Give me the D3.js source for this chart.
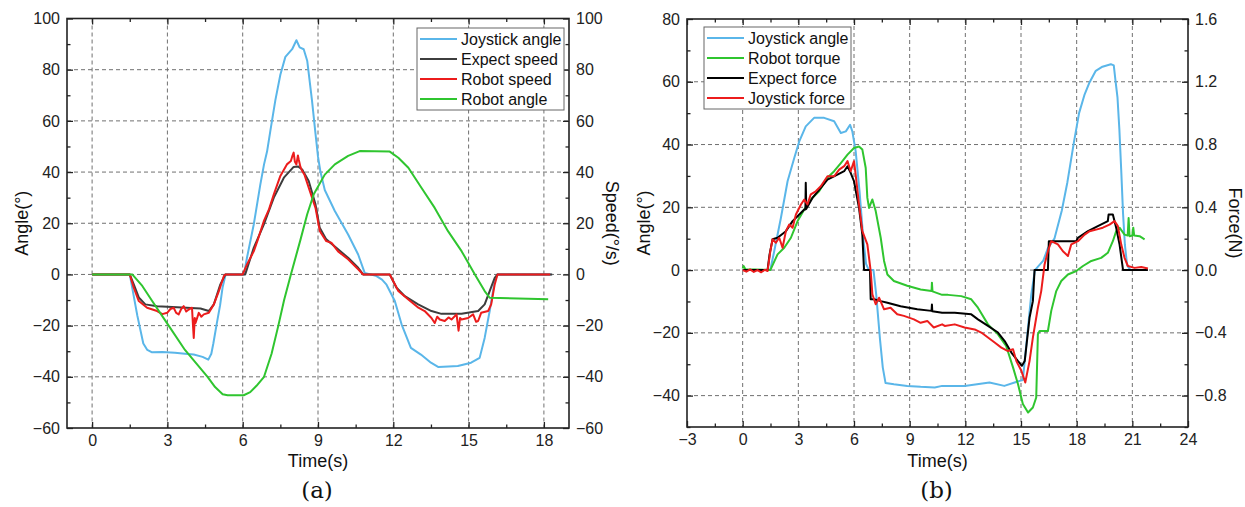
<!DOCTYPE html>
<html>
<head>
<meta charset="utf-8">
<script src="https://cdn.jsdelivr.net/npm/d3@7"></script>
<style>
  body { margin: 0; background: #fff; }
  text { font-family: "Liberation Sans", Arial, sans-serif; }
</style>
</head>
<body>
<svg id="chart" width="1245" height="507"></svg>
<script>
// ---- panel (a): time(s), value -- angle(deg) and speed(deg/s) share one scale
var a_joystickAngle = [[0,0],[1.5,0],[1.65,-8],[1.8,-16],[2.04,-27],[2.2,-29.5],[2.37,-30.4],[2.8,-30.3],[3.3,-30.6],[3.7,-31],[4.05,-31.3],[4.4,-32.2],[4.63,-33.3],[4.75,-31],[4.83,-27],[4.97,-19],[5.1,-12],[5.2,-5],[5.32,0],[6.05,0],[6.17,6.5],[6.44,19.5],[6.7,35],[6.85,43],[6.97,48],[7.1,56],[7.3,68],[7.5,78],[7.7,85],[7.97,88],[8.14,91.5],[8.27,88.7],[8.43,88],[8.57,83.5],[8.76,68],[8.9,55],[9.0,46],[9.1,40],[9.27,33],[9.67,24.8],[10.2,15.6],[10.6,7.8],[10.86,0.6],[11.3,-0.5],[11.55,-2],[11.73,-4],[12.06,-10.4],[12.33,-19.5],[12.7,-28.7],[13.1,-31.3],[13.5,-34.5],[13.8,-36.2],[14.2,-36],[14.57,-35.8],[15.1,-34.5],[15.44,-32.6],[15.64,-24.8],[15.84,-14.3],[16.04,-2.6],[16.15,0],[18.3,0]];
var a_expectSpeed = [[0,0],[1.5,0],[1.66,-3.9],[1.86,-9],[2.12,-11.7],[2.59,-12.4],[3.39,-12.8],[4.32,-13.3],[4.65,-14.3],[4.85,-11.7],[5.11,-3.9],[5.31,0],[6.1,0],[6.44,10.4],[6.84,19.5],[7.24,30],[7.64,37.8],[8.03,42],[8.2,42.2],[8.37,41],[8.63,36.5],[8.9,27.4],[9.07,18.2],[9.33,13.7],[9.8,9.8],[10.2,6.5],[10.6,2.6],[10.8,0],[11.86,0],[12.13,-5.2],[12.46,-8.5],[12.99,-11.7],[13.52,-14.3],[13.92,-15.4],[14.72,-15.4],[15.38,-14.3],[15.64,-11.7],[15.84,-6.5],[16.04,-1.3],[16.15,0],[18.33,0]];
var a_robotSpeed = [[0,0],[1.5,0],[1.66,-5.2],[1.86,-10.4],[2.19,-13],[2.59,-14.3],[2.8,-15.5],[2.99,-15],[3.12,-13.5],[3.25,-13],[3.35,-15],[3.45,-15.6],[3.55,-13.5],[3.65,-12.4],[3.75,-14.5],[3.85,-13.7],[3.98,-13],[4.02,-20],[4.05,-24.8],[4.09,-17],[4.12,-19],[4.25,-15],[4.35,-16.5],[4.45,-15.6],[4.65,-15],[4.85,-11.7],[5.05,-6.5],[5.25,-0.6],[5.31,0],[6.0,0],[6.17,3.9],[6.44,9],[6.6,13.5],[6.84,20.8],[7.05,25.5],[7.24,31.3],[7.5,38.5],[7.76,43],[7.92,44.3],[7.97,46],[8.03,47.6],[8.08,44],[8.14,43],[8.2,46.5],[8.23,45],[8.3,42],[8.37,40.4],[8.46,39],[8.63,33.9],[8.9,26],[9.07,17],[9.33,13],[9.53,12.4],[9.8,9],[10.2,5.9],[10.6,2],[10.8,0],[11.86,0],[12.2,-6.5],[12.6,-9.8],[13,-13],[13.25,-14.3],[13.52,-17],[13.65,-19],[13.75,-16.5],[13.85,-17.6],[14.05,-18.2],[14.2,-16.8],[14.32,-17.6],[14.52,-15.6],[14.6,-22],[14.66,-17],[14.72,-17.6],[14.98,-17],[15.18,-15.6],[15.3,-18.5],[15.38,-18.2],[15.5,-15],[15.78,-14.3],[15.9,-11.7],[16.04,-3.9],[16.15,0],[18.25,0]];
var a_robotAngle = [[0,0],[1.6,0],[2.0,-4.5],[2.4,-10.5],[3.05,-20],[3.7,-29.5],[4.6,-40],[4.9,-44],[5.2,-46.8],[5.4,-47.2],[6.04,-47.2],[6.3,-46],[6.55,-43.5],[6.85,-40],[7.15,-31],[7.42,-20],[7.65,-10],[7.92,0],[8.3,13.5],[8.57,23.5],[8.83,31.3],[9.27,39],[9.67,43],[10.2,46.3],[10.66,48.2],[11.86,48],[12.2,45.6],[12.6,41.7],[13.12,33.9],[13.65,26],[14.18,16.9],[14.72,9.1],[15.25,0],[15.64,-6.5],[15.84,-9.1],[18.17,-9.7]];

// ---- panel (b): joystick angle in deg (left axis), forces/torque in N (right axis)
var b_joystickAngle = [[0,0],[1.49,0],[1.7,6],[2.06,16.6],[2.42,28.3],[2.78,35.7],[3.05,41],[3.4,45.8],[3.85,48.5],[4.39,48.5],[4.93,47.4],[5.29,43.7],[5.56,44.2],[5.79,46.3],[5.91,44.2],[6.09,37.9],[6.3,25],[6.5,10],[6.65,2],[6.8,0],[7.05,0],[7.2,-8],[7.4,-22],[7.55,-31],[7.7,-36],[8.15,-36.4],[8.87,-36.9],[9.59,-37.2],[10.35,-37.4],[10.75,-36.9],[11.96,-36.9],[13.3,-35.8],[14.1,-36.9],[14.93,-35.3],[15.1,-35],[15.35,-20],[15.55,-8],[15.75,0],[16.2,3],[16.45,7],[16.8,10],[17.2,19],[17.5,28],[17.86,41],[18.13,50],[18.43,56],[18.67,59.5],[19.03,63.5],[19.39,64.8],[19.84,65.6],[20.0,65.2],[20.1,60],[20.2,55],[20.3,45],[20.4,32],[20.5,18],[20.6,8],[20.72,1.5],[20.9,0],[21.1,0]];
var b_robotTorque = [[0,0.01],[0.05,0.026],[0.15,0.006],[1.49,0],[1.88,0.1],[2.24,0.142],[2.6,0.206],[2.96,0.312],[3.32,0.386],[3.67,0.45],[4.12,0.502],[4.57,0.588],[4.93,0.63],[5.29,0.682],[5.65,0.736],[6.0,0.778],[6.27,0.788],[6.45,0.768],[6.63,0.652],[6.72,0.46],[6.81,0.396],[6.99,0.45],[7.17,0.376],[7.44,0.206],[7.62,0.058],[7.8,-0.028],[8.15,-0.07],[8.87,-0.1],[9.59,-0.124],[10.18,-0.134],[10.2,-0.08],[10.23,-0.136],[10.75,-0.158],[11.07,-0.158],[11.78,-0.166],[12.32,-0.186],[12.68,-0.24],[13.22,-0.346],[13.76,-0.41],[14.2,-0.484],[14.57,-0.62],[14.84,-0.728],[15.1,-0.854],[15.38,-0.908],[15.64,-0.876],[15.82,-0.812],[15.91,-0.41],[16.0,-0.388],[16.45,-0.388],[16.63,-0.26],[16.9,-0.134],[17.17,-0.07],[17.53,-0.028],[17.98,-0.006],[18.34,0.026],[18.79,0.058],[19.32,0.078],[19.68,0.11],[19.95,0.184],[20.13,0.248],[20.31,0.27],[20.58,0.226],[20.75,0.22],[20.8,0.332],[20.85,0.216],[21.0,0.22],[21.05,0.27],[21.1,0.22],[21.39,0.216],[21.66,0.196]];
var b_expectForce = [[0,0],[1.34,0],[1.45,0.1],[1.61,0.196],[1.88,0.206],[2.33,0.248],[2.69,0.312],[3.05,0.354],[3.32,0.386],[3.38,0.386],[3.4,0.556],[3.43,0.39],[3.76,0.46],[4.21,0.524],[4.57,0.576],[5.11,0.608],[5.47,0.63],[5.65,0.662],[5.82,0.62],[6.0,0.566],[6.27,0.396],[6.45,0.226],[6.54,0],[6.86,0],[6.9,-0.186],[7.08,-0.186],[7.44,-0.198],[7.8,-0.208],[8.51,-0.23],[9.41,-0.25],[10.18,-0.26],[10.2,-0.22],[10.22,-0.262],[10.75,-0.272],[11.43,-0.272],[12.32,-0.282],[12.68,-0.314],[13.22,-0.356],[13.76,-0.398],[14.12,-0.452],[14.48,-0.526],[14.84,-0.58],[15.05,-0.61],[15.2,-0.58],[15.46,-0.304],[15.64,-0.198],[15.73,0],[16.45,0],[16.5,0.184],[17.98,0.184],[18.07,0.206],[18.61,0.248],[19.14,0.28],[19.68,0.312],[19.72,0.354],[19.95,0.354],[20.13,0.27],[20.31,0.164],[20.5,0],[21.84,0]];
var b_joystickForce = [[0,0],[0.2,-0.01],[0.4,0.004],[0.6,-0.012],[0.8,0],[1.0,-0.014],[1.2,0.002],[1.34,-0.006],[1.49,0.12],[1.61,0.196],[1.79,0.174],[1.97,0.206],[2.15,0.142],[2.33,0.248],[2.51,0.29],[2.69,0.27],[2.87,0.354],[3.14,0.418],[3.32,0.45],[3.49,0.418],[3.67,0.482],[3.94,0.502],[4.21,0.534],[4.57,0.598],[4.93,0.598],[5.2,0.64],[5.47,0.662],[5.65,0.694],[5.82,0.63],[6.0,0.694],[6.09,0.608],[6.27,0.418],[6.45,0.248],[6.72,0.164],[6.9,-0.006],[6.99,-0.154],[7.17,-0.218],[7.35,-0.176],[7.62,-0.25],[7.97,-0.24],[8.33,-0.282],[8.69,-0.292],[9.23,-0.314],[9.59,-0.336],[9.95,-0.324],[10.3,-0.366],[10.75,-0.346],[10.89,-0.356],[11.43,-0.346],[11.96,-0.366],[12.5,-0.378],[12.86,-0.398],[13.22,-0.43],[13.58,-0.462],[13.94,-0.494],[14.3,-0.516],[14.57,-0.504],[14.75,-0.58],[15.02,-0.642],[15.23,-0.716],[15.46,-0.58],[15.64,-0.43],[15.82,-0.304],[15.91,-0.24],[16.09,-0.134],[16.27,0.036],[16.45,0.12],[16.63,0.184],[16.99,0.164],[17.26,0.12],[17.53,0.09],[17.71,0.164],[18.07,0.184],[18.43,0.226],[18.7,0.248],[19.05,0.258],[19.41,0.27],[19.77,0.29],[20.04,0.312],[20.22,0.28],[20.4,0.164],[20.58,0.078],[20.76,0.026],[21.12,0.014],[21.48,0.02],[21.84,0.01]];

var legendA = ["Joystick angle", "Expect speed", "Robot speed", "Robot angle"];
var legendB = ["Joystick angle", "Robot torque", "Expect force", "Joystick force"];

var xTicksA = [0, 3, 6, 9, 12, 15, 18];
var yTicksA = [-60, -40, -20, 0, 20, 40, 60, 80, 100];
var xTicksB = [-3, 0, 3, 6, 9, 12, 15, 18, 21, 24];
var yTicksB = [-40, -20, 0, 20, 40, 60, 80];
var y2TicksB = [-0.8, -0.4, 0.0, 0.4, 0.8, 1.2, 1.6];

var BLUE = "#5ab6e9", GRAY = "#3d3d3d", RED = "#ec1c1c", GREEN = "#2fc52f", BLACK = "#000";

function midpoints(t, dom) {
  var step = t[1] - t[0], out = [];
  for (var v = t[0] - step / 2; v <= dom[1]; v += step)
    if (v >= dom[0]) out.push(v);
  return out;
}

function drawPanel(o) {
  var svg = d3.select("#chart");
  var g = svg.append("g");

  var x = d3.scaleLinear().domain(o.xDomain).range([o.left, o.right]);
  var y = d3.scaleLinear().domain(o.yDomain).range([o.bottom, o.top]);
  var y2 = d3.scaleLinear().domain(o.y2Domain).range([o.bottom, o.top]);

  g.append("clipPath").attr("id", o.id + "clip")
    .append("rect")
      .attr("x", o.left).attr("y", o.top)
      .attr("width", o.right - o.left).attr("height", o.bottom - o.top);

  // dashed grid
  var grid = g.append("g")
      .attr("stroke", "#707070")
      .attr("stroke-width", 1)
      .attr("stroke-dasharray", "4,3");
  grid.selectAll(".vg").data(o.xTicks.filter(function(d){ return d > o.xDomain[0] && d < o.xDomain[1]; }))
    .join("line")
      .attr("x1", function(d){ return x(d); }).attr("x2", function(d){ return x(d); })
      .attr("y1", o.top).attr("y2", o.bottom);
  grid.selectAll(".hg").data(o.yTicks.filter(function(d){ return d > o.yDomain[0] && d < o.yDomain[1]; }))
    .join("line")
      .attr("y1", function(d){ return y(d); }).attr("y2", function(d){ return y(d); })
      .attr("x1", o.left).attr("x2", o.right);

  // series
  var lines = g.append("g").attr("clip-path", "url(#" + o.id + "clip)");
  o.series.forEach(function(s) {
    var sy = s.axis == 2 ? y2 : y;
    lines.append("path")
      .datum(s.data)
      .attr("fill", "none")
      .attr("stroke", s.color)
      .attr("stroke-width", 2)
      .attr("stroke-linejoin", "round")
      .attr("d", d3.line()
        .x(function(d){ return x(d[0]); })
        .y(function(d){ return sy(d[1]); }));
  });

  // axes, ticks pointing inward
  function addAxis(gen, tr, fmt, ticks, size) {
    var ax = g.append("g")
        .attr("transform", tr)
        .call(gen.tickValues(ticks).tickSize(size).tickPadding(fmt ? 7 : 0)
          .tickFormat(fmt || function(){ return ""; }));
    ax.select(".domain").remove();
    ax.selectAll("line").attr("stroke", "#222").attr("stroke-width", 1.3);
    ax.attr("font-size", 16).attr("font-family", "Liberation Sans, Arial, sans-serif");
    ax.selectAll("text").attr("fill", "#222");
    return ax;
  }
  var xMinor = midpoints(o.xTicks, o.xDomain);
  var yMinor = midpoints(o.yTicks, o.yDomain);
  var y2Minor = midpoints(o.y2Ticks, o.y2Domain);

  addAxis(d3.axisBottom(x), "translate(0," + o.bottom + ")", d3.format("d"), o.xTicks, -6);
  addAxis(d3.axisBottom(x), "translate(0," + o.bottom + ")", null, xMinor, -3.5);
  addAxis(d3.axisTop(x), "translate(0," + o.top + ")", null, o.xTicks, -6);
  addAxis(d3.axisTop(x), "translate(0," + o.top + ")", null, xMinor, -3.5);
  addAxis(d3.axisLeft(y), "translate(" + o.left + ",0)", d3.format("d"), o.yTicks, -6);
  addAxis(d3.axisLeft(y), "translate(" + o.left + ",0)", null, yMinor, -3.5);
  addAxis(d3.axisRight(y2), "translate(" + o.right + ",0)", o.y2Format, o.y2Ticks, -6);
  addAxis(d3.axisRight(y2), "translate(" + o.right + ",0)", null, y2Minor, -3.5);

  g.append("rect")
    .attr("x", o.left).attr("y", o.top)
    .attr("width", o.right - o.left).attr("height", o.bottom - o.top)
    .attr("fill", "none")
    .attr("stroke", "#222")
    .attr("stroke-width", 1.6);

  // axis titles
  g.append("text")
    .attr("transform", "translate(" + o.yLabelX + "," + (o.top + o.bottom) / 2 + ") rotate(-90)")
    .attr("text-anchor", "middle").attr("font-size", 18).attr("fill", "#111")
    .text(o.yLabel);
  g.append("text")
    .attr("transform", "translate(" + o.y2LabelX + "," + (o.top + o.bottom) / 2 + ") rotate(90)")
    .attr("text-anchor", "middle").attr("font-size", 18).attr("fill", "#111")
    .text(o.y2Label);
  g.append("text")
    .attr("x", (o.left + o.right) / 2).attr("y", 467)
    .attr("text-anchor", "middle").attr("font-size", 18).attr("fill", "#111")
    .text("Time(s)");
  g.append("text")
    .attr("x", (o.left + o.right) / 2 - 1).attr("y", 498)
    .attr("text-anchor", "middle").attr("font-size", 23)
    .style("font-family", "DejaVu Serif, serif").attr("fill", "#111")
    .text(o.caption);

  // legend
  var lg = g.append("g").attr("transform", "translate(" + o.legendX + "," + o.legendY + ")");
  lg.append("rect")
    .attr("width", 147).attr("height", 82)
    .attr("fill", "#fff").attr("stroke", "#666").attr("stroke-width", 1);
  o.series.forEach(function(s, i) {
    var ly = 11 + i * 20;
    lg.append("line")
      .attr("x1", 3).attr("x2", 40).attr("y1", ly).attr("y2", ly)
      .attr("stroke", s.color).attr("stroke-width", 2.2);
    lg.append("text")
      .attr("x", 44).attr("y", ly).attr("dy", "0.35em")
      .attr("font-size", 16).attr("fill", "#111")
      .text(o.legend[i]);
  });
}

drawPanel({
  id: "a", left: 67, right: 569, top: 18.5, bottom: 428,
  xDomain: [-1, 19], yDomain: [-60, 100], y2Domain: [-60, 100],
  xTicks: xTicksA, yTicks: yTicksA, y2Ticks: yTicksA, y2Format: d3.format("d"),
  yLabel: "Angle(°)", yLabelX: 28, y2Label: "Speed(°/s)", y2LabelX: 606,
  caption: "(a)", legend: legendA, legendX: 417, legendY: 28,
  series: [
    { data: a_joystickAngle, color: BLUE, axis: 1 },
    { data: a_expectSpeed, color: GRAY, axis: 2 },
    { data: a_robotSpeed, color: RED, axis: 2 },
    { data: a_robotAngle, color: GREEN, axis: 1 }
  ]
});

drawPanel({
  id: "b", left: 687, right: 1188, top: 19, bottom: 427,
  xDomain: [-3, 24], yDomain: [-50, 80], y2Domain: [-1.0, 1.6],
  xTicks: xTicksB, yTicks: yTicksB, y2Ticks: y2TicksB, y2Format: d3.format(".1f"),
  yLabel: "Angle(°)", yLabelX: 650, y2Label: "Force(N)", y2LabelX: 1229,
  caption: "(b)", legend: legendB, legendX: 704, legendY: 27,
  series: [
    { data: b_joystickAngle, color: BLUE, axis: 1 },
    { data: b_robotTorque, color: GREEN, axis: 2 },
    { data: b_expectForce, color: BLACK, axis: 2 },
    { data: b_joystickForce, color: RED, axis: 2 }
  ]
});
</script>
</body>
</html>
